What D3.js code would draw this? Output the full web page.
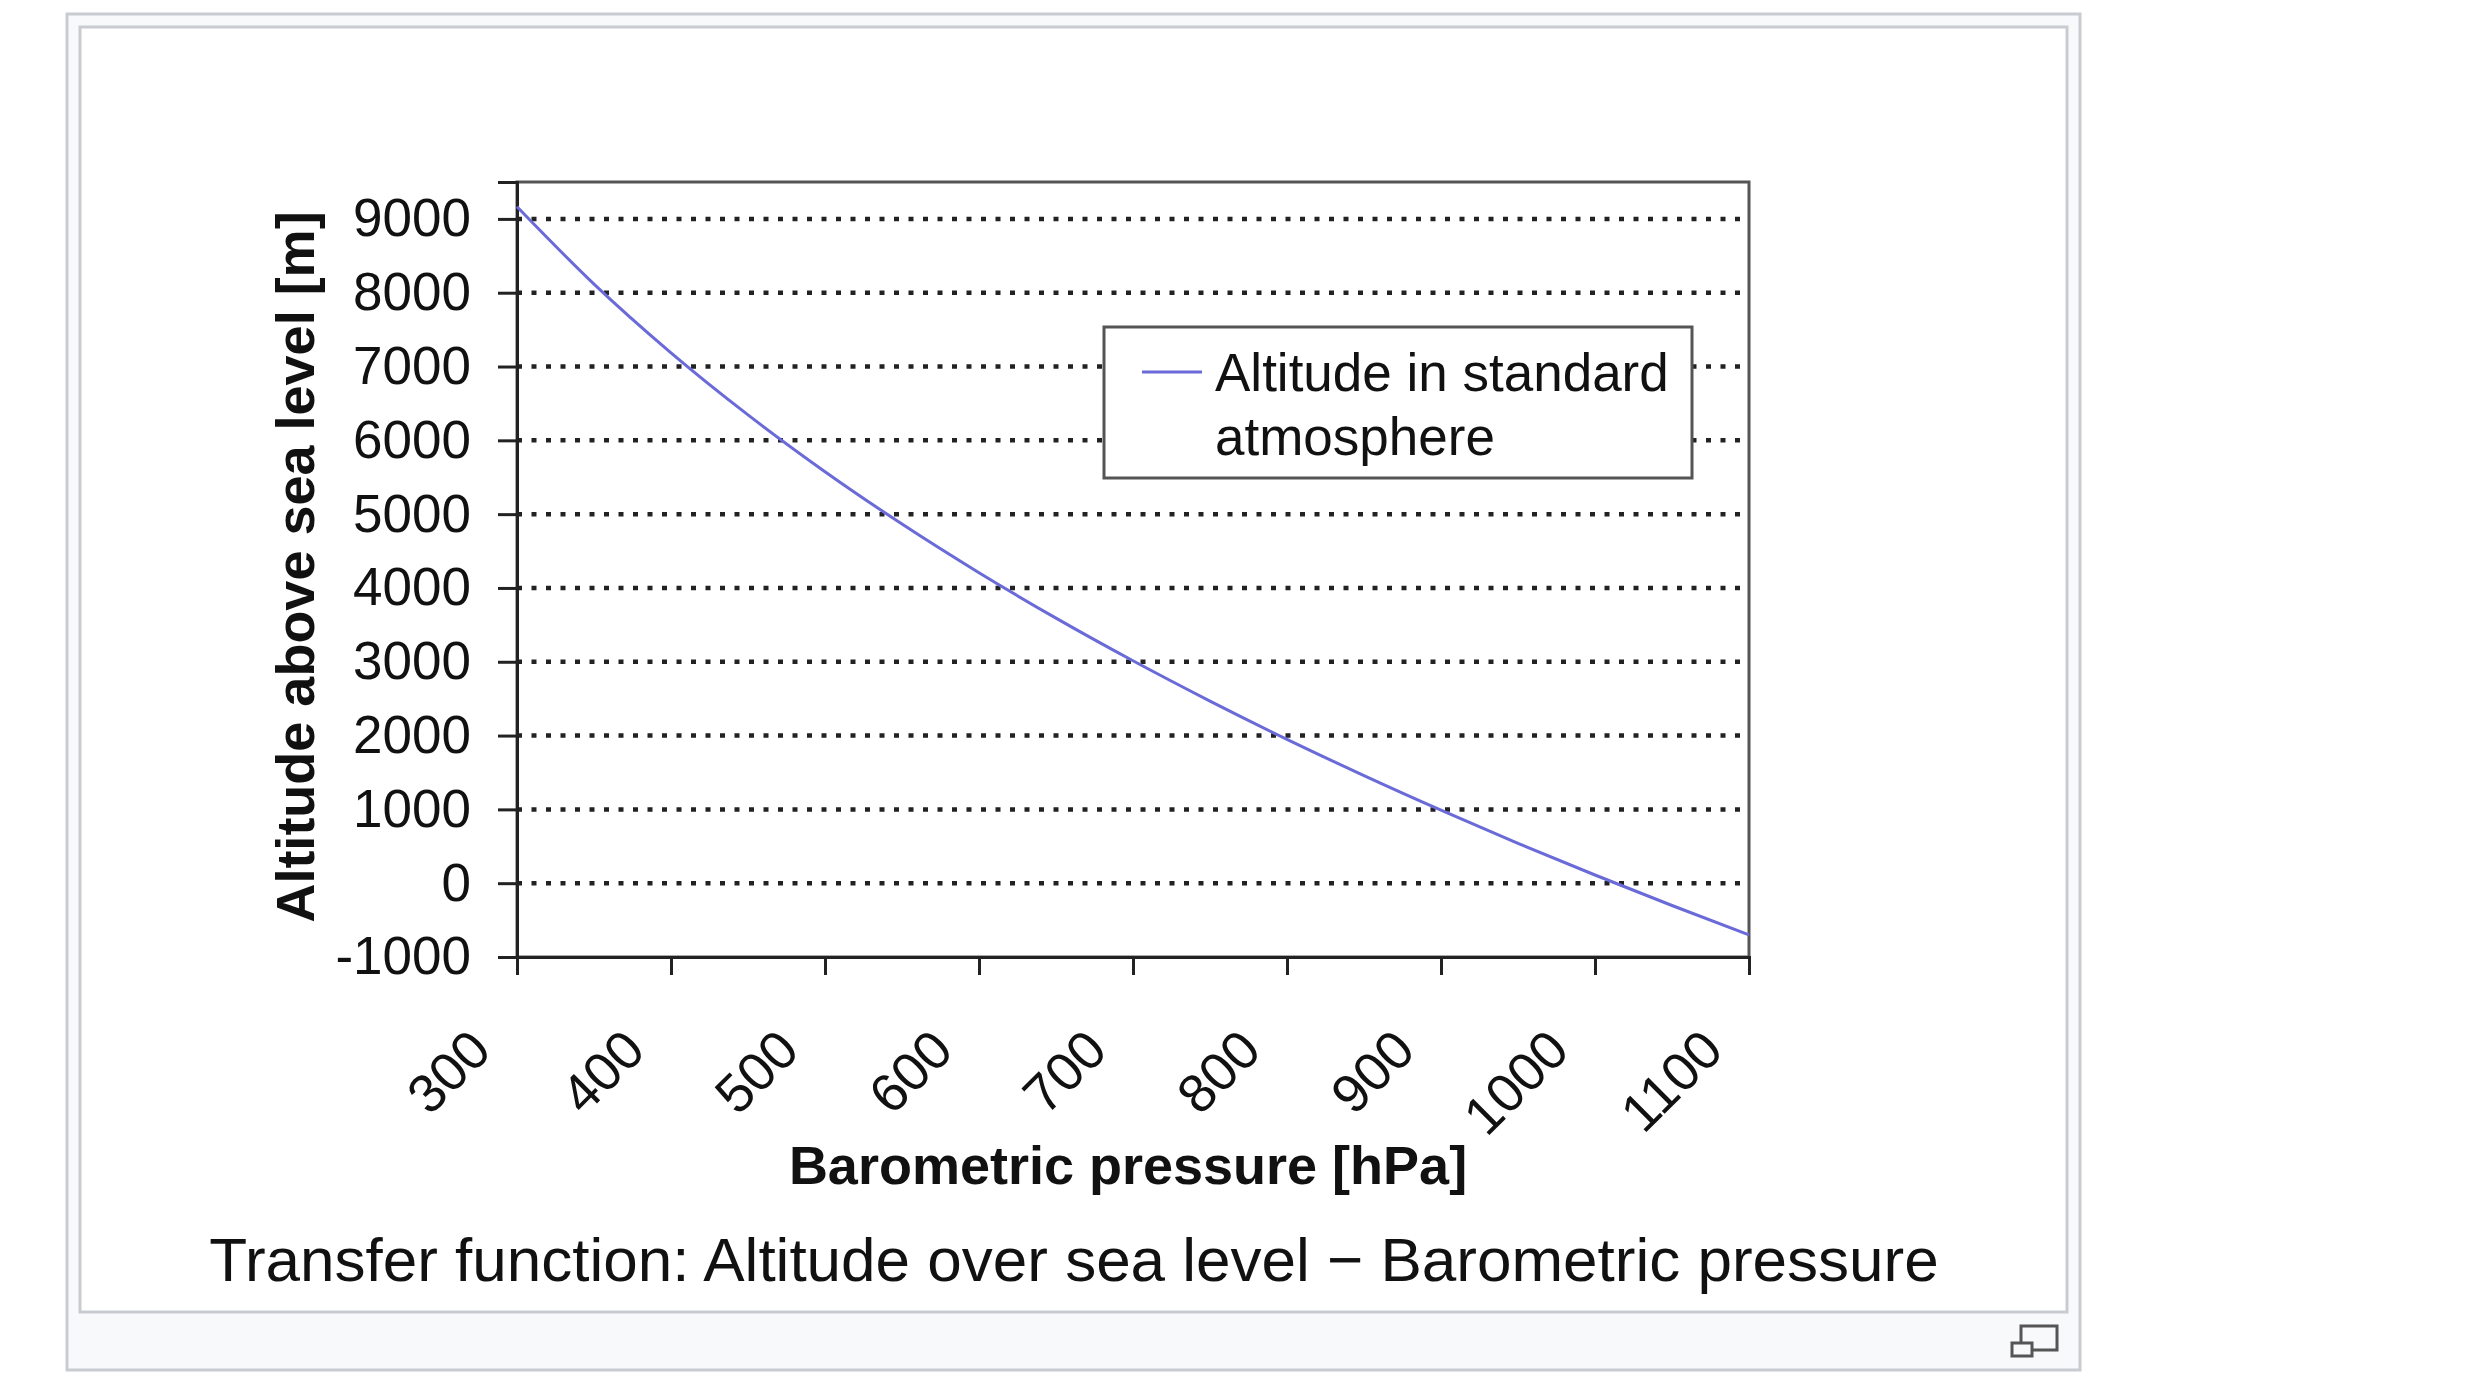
<!DOCTYPE html>
<html>
<head>
<meta charset="utf-8">
<script src="https://cdn.jsdelivr.net/npm/d3@7"></script>
<style>
  html, body { margin: 0; padding: 0; background: #fff; }
  text { font-family: "Liberation Sans", Arial, sans-serif; fill: #111; }
</style>
</head>
<body>
<svg id="chart" width="2480" height="1396"></svg>
<script>
// values (hPa -> m)
const presion = [300, 350, 400, 450, 500, 550, 600, 650, 700, 750, 800, 850, 900, 950, 1000, 1050, 1100];
const altitud = [9165, 8117, 7186, 6345, 5575, 4866, 4207, 3591, 3013, 2467, 1949, 1458, 989, 540, 111, -302, -699];
const xTicks = [300, 400, 500, 600, 700, 800, 900, 1000, 1100];
const yTicks = [-1000, 0, 1000, 2000, 3000, 4000, 5000, 6000, 7000, 8000, 9000];
const serie = "Altitude in standard atmosphere";

const svg = d3.select("#chart");

// thumbnail frame
svg.append("rect").attr("x", 67).attr("y", 14).attr("width", 2013).attr("height", 1356)
  .attr("fill", "#f8f9fa").attr("stroke", "#c8ccd1").attr("stroke-width", 3);
svg.append("rect").attr("x", 80).attr("y", 27).attr("width", 1987).attr("height", 1285)
  .attr("fill", "#fff").attr("stroke", "#c8ccd1").attr("stroke-width", 3);

// magnify icon
const ic = svg.append("g").attr("fill", "none").attr("stroke", "#555").attr("stroke-width", 3);
ic.append("rect").attr("x", 2021).attr("y", 1326).attr("width", 36).attr("height", 24).attr("fill", "#f8f9fa");
ic.append("rect").attr("x", 2012).attr("y", 1343).attr("width", 20).attr("height", 13).attr("fill", "#f8f9fa");

const pL = 517, pR = 1749, pT = 182, pB = 957;
const x = d3.scaleLinear().domain([300, 1100]).range([pL, pR]);
const y = d3.scaleLinear().domain([-1000, 9500]).range([pB, pT]);

// plot frame
svg.append("rect").attr("x", pL).attr("y", pT).attr("width", pR - pL).attr("height", pB - pT)
  .attr("fill", "#fff").attr("stroke", "#555").attr("stroke-width", 3);

// dotted grid
svg.append("g").selectAll("line")
  .data(yTicks.filter(d => d > -1000))
  .enter().append("line")
  .attr("x1", pL).attr("x2", pR)
  .attr("y1", d => y(d)).attr("y2", d => y(d))
  .attr("stroke", "#222").attr("stroke-width", 4.5).attr("stroke-dasharray", "5 9.5");

// axes
const ax = svg.append("g").attr("transform", `translate(${pL},0)`)
  .call(d3.axisLeft(y).tickValues(yTicks).tickSize(19).tickPadding(27).tickFormat(d => String(d)));
const bx = svg.append("g").attr("transform", `translate(0,${pB})`)
  .call(d3.axisBottom(x).tickValues(xTicks).tickSize(18).tickFormat(d => String(d)));

[ax, bx].forEach(g => {
  g.select(".domain").attr("stroke", "#222").attr("stroke-width", 3);
  g.selectAll(".tick line").attr("stroke", "#222").attr("stroke-width", 3);
  g.selectAll("text").attr("font-family", "Liberation Sans, Arial, sans-serif").attr("fill", "#111");
});
ax.selectAll("text").attr("font-size", 53);
bx.selectAll(".tick text")
  .attr("font-size", 54)
  .attr("text-anchor", "end")
  .attr("dy", null)
  .attr("y", 0)
  .attr("transform", "translate(-24,96) rotate(-45)");

// curve
const linea = d3.line()
  .x((d, i) => x(presion[i]))
  .y(d => y(d))
  .curve(d3.curveMonotoneX);
svg.append("path").datum(altitud)
  .attr("fill", "none").attr("stroke", "#6a6ad8").attr("stroke-width", 3)
  .attr("d", linea);

// legend
const lg = svg.append("g");
lg.append("rect").attr("x", 1104).attr("y", 327).attr("width", 588).attr("height", 151)
  .attr("fill", "#fff").attr("stroke", "#555").attr("stroke-width", 3);
lg.append("line").attr("x1", 1142).attr("x2", 1202).attr("y1", 372).attr("y2", 372)
  .attr("stroke", "#6a6ad8").attr("stroke-width", 3);
const palabras = serie.split(" ");
lg.append("text").attr("x", 1215).attr("y", 391).attr("font-size", 53).text(palabras.slice(0, 3).join(" "));
lg.append("text").attr("x", 1215).attr("y", 455).attr("font-size", 53).text(palabras.slice(3).join(" "));

// axis titles
svg.append("text").attr("transform", "translate(314,567) rotate(-90)")
  .attr("text-anchor", "middle").attr("font-size", 54).attr("font-weight", "bold")
  .text("Altitude above sea level [m]");
svg.append("text").attr("x", 1128).attr("y", 1184)
  .attr("text-anchor", "middle").attr("font-size", 54).attr("font-weight", "bold")
  .text("Barometric pressure [hPa]");

// caption
svg.append("text").attr("x", 1074).attr("y", 1281)
  .attr("text-anchor", "middle").attr("font-size", 62)
  .text("Transfer function: Altitude over sea level \u2212 Barometric pressure");
</script>
</body>
</html>
